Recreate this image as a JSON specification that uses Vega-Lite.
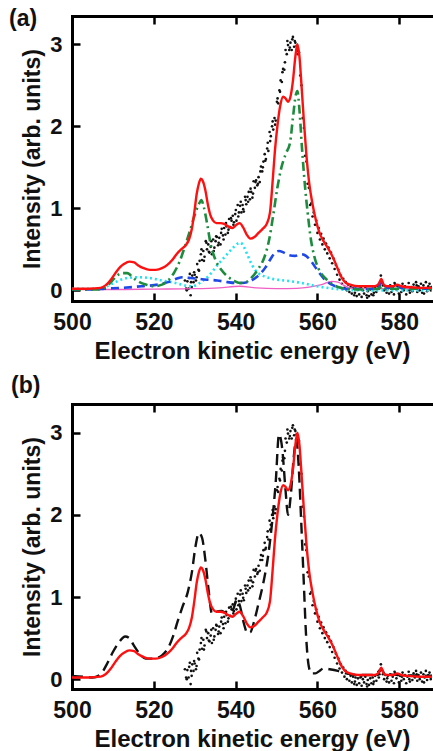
{
  "$schema": "https://vega.github.io/schema/vega-lite/v6.json",
  "padding": {"left": 9, "top": 7, "right": 5, "bottom": 5},
  "background": "white",
  "spacing": 103,
  "bounds": "flush",
  "datasets": {
    "fit": [
      {"E":500,"I":0.02},{"E":504,"I":0.02},{"E":507,"I":0.03},{"E":508.2,"I":0.06},{"E":509.5,"I":0.13},{"E":510.6,"I":0.21},{"E":511.7,"I":0.28},{"E":512.7,"I":0.32},{"E":514,"I":0.35},{"E":515.2,"I":0.34},{"E":516.3,"I":0.3},{"E":517.5,"I":0.27},{"E":519,"I":0.25},{"E":520.5,"I":0.25},{"E":522,"I":0.27},{"E":523.3,"I":0.31},{"E":524.5,"I":0.37},{"E":525.7,"I":0.45},{"E":526.9,"I":0.51},{"E":527.8,"I":0.55},{"E":528.6,"I":0.62},{"E":529.3,"I":0.75},{"E":529.9,"I":0.95},{"E":530.5,"I":1.18},{"E":531,"I":1.3},{"E":531.5,"I":1.36},{"E":532,"I":1.33},{"E":532.6,"I":1.22},{"E":533.2,"I":1.05},{"E":533.8,"I":0.92},{"E":534.5,"I":0.85},{"E":535.3,"I":0.82},{"E":536.3,"I":0.82},{"E":537.2,"I":0.81},{"E":538.2,"I":0.78},{"E":539.2,"I":0.76},{"E":540.2,"I":0.8},{"E":541,"I":0.82},{"E":541.8,"I":0.77},{"E":542.7,"I":0.68},{"E":543.6,"I":0.63},{"E":544.6,"I":0.65},{"E":545.6,"I":0.7},{"E":546.6,"I":0.75},{"E":547.6,"I":0.81},{"E":548.4,"I":0.95},{"E":549,"I":1.3},{"E":549.6,"I":1.7},{"E":550.2,"I":2.0},{"E":550.9,"I":2.25},{"E":551.6,"I":2.36},{"E":552.2,"I":2.34},{"E":552.8,"I":2.3},{"E":553.4,"I":2.36},{"E":554,"I":2.55},{"E":554.6,"I":2.85},{"E":555.1,"I":3.0},{"E":555.6,"I":2.85},{"E":556.1,"I":2.5},{"E":556.7,"I":2.05},{"E":557.3,"I":1.65},{"E":558,"I":1.3},{"E":558.8,"I":1.05},{"E":559.6,"I":0.86},{"E":560.5,"I":0.7},{"E":561.5,"I":0.6},{"E":562.5,"I":0.52},{"E":563.5,"I":0.43},{"E":564.5,"I":0.32},{"E":565.3,"I":0.22},{"E":566.1,"I":0.14},{"E":567,"I":0.09},{"E":568,"I":0.07},{"E":570,"I":0.05},{"E":572,"I":0.05},{"E":574,"I":0.05},{"E":575,"I":0.08},{"E":575.6,"I":0.14},{"E":576.2,"I":0.07},{"E":577,"I":0.05},{"E":578.5,"I":0.05},{"E":579.5,"I":0.07},{"E":580.5,"I":0.05},{"E":582,"I":0.04},{"E":585,"I":0.03},{"E":588,"I":0.03}
    ],
    "green": [
      {"E":500,"I":0.01},{"E":506,"I":0.01},{"E":508,"I":0.03},{"E":509.5,"I":0.1},{"E":511,"I":0.18},{"E":512.5,"I":0.21},{"E":513.5,"I":0.21},{"E":515,"I":0.15},{"E":516.5,"I":0.1},{"E":518,"I":0.07},{"E":520,"I":0.05},{"E":522,"I":0.07},{"E":523.5,"I":0.12},{"E":525,"I":0.22},{"E":526.3,"I":0.35},{"E":527.5,"I":0.52},{"E":528.8,"I":0.72},{"E":530,"I":0.92},{"E":531,"I":1.05},{"E":531.6,"I":1.1},{"E":532.2,"I":1.02},{"E":533,"I":0.82},{"E":533.9,"I":0.56},{"E":535,"I":0.38},{"E":536.5,"I":0.25},{"E":538,"I":0.17},{"E":539.5,"I":0.12},{"E":541,"I":0.09},{"E":542.5,"I":0.1},{"E":544,"I":0.16},{"E":545.5,"I":0.26},{"E":547,"I":0.4},{"E":548.2,"I":0.62},{"E":549.2,"I":0.92},{"E":550.2,"I":1.25},{"E":551.2,"I":1.5},{"E":552.3,"I":1.67},{"E":553.3,"I":1.8},{"E":554,"I":2.1},{"E":554.7,"I":2.38},{"E":555.1,"I":2.43},{"E":555.6,"I":2.2},{"E":556.2,"I":1.75},{"E":556.9,"I":1.3},{"E":557.6,"I":0.95},{"E":558.4,"I":0.62},{"E":559.2,"I":0.42},{"E":560.2,"I":0.27},{"E":561.3,"I":0.18},{"E":562.5,"I":0.12},{"E":563.8,"I":0.07},{"E":565,"I":0.04},{"E":567,"I":0.02},{"E":570,"I":0.01},{"E":575,"I":0.02},{"E":575.7,"I":0.05},{"E":576.3,"I":0.02},{"E":580,"I":0.02},{"E":588,"I":0.02}
    ],
    "blue": [
      {"E":500,"I":0.01},{"E":505,"I":0.01},{"E":508,"I":0.02},{"E":512,"I":0.03},{"E":517,"I":0.05},{"E":521,"I":0.07},{"E":523.5,"I":0.1},{"E":525.5,"I":0.14},{"E":527,"I":0.16},{"E":529,"I":0.15},{"E":531,"I":0.14},{"E":533,"I":0.13},{"E":535.5,"I":0.12},{"E":538,"I":0.1},{"E":540,"I":0.09},{"E":541.5,"I":0.09},{"E":543,"I":0.1},{"E":544.5,"I":0.14},{"E":546,"I":0.2},{"E":547.3,"I":0.28},{"E":548.5,"I":0.38},{"E":549.5,"I":0.45},{"E":550.6,"I":0.48},{"E":551.8,"I":0.46},{"E":553,"I":0.43},{"E":554.5,"I":0.42},{"E":556,"I":0.44},{"E":557.2,"I":0.42},{"E":558.4,"I":0.36},{"E":559.5,"I":0.28},{"E":560.8,"I":0.19},{"E":562,"I":0.12},{"E":563.5,"I":0.07},{"E":565,"I":0.04},{"E":567,"I":0.02},{"E":570,"I":0.02},{"E":574,"I":0.02},{"E":575,"I":0.05},{"E":575.6,"I":0.1},{"E":576.2,"I":0.04},{"E":578,"I":0.03},{"E":579.3,"I":0.06},{"E":580.5,"I":0.03},{"E":583,"I":0.02},{"E":588,"I":0.02}
    ],
    "cyan": [
      {"E":500,"I":0.02},{"E":506,"I":0.02},{"E":508,"I":0.04},{"E":509.8,"I":0.08},{"E":511.5,"I":0.12},{"E":513.5,"I":0.15},{"E":516,"I":0.16},{"E":519,"I":0.15},{"E":522,"I":0.12},{"E":525.3,"I":0.09},{"E":527.5,"I":0.06},{"E":529,"I":0.05},{"E":530.2,"I":0.06},{"E":531.5,"I":0.1},{"E":533.5,"I":0.18},{"E":535.1,"I":0.28},{"E":537,"I":0.39},{"E":539,"I":0.5},{"E":540.5,"I":0.57},{"E":541.2,"I":0.58},{"E":542,"I":0.53},{"E":543,"I":0.42},{"E":544.1,"I":0.3},{"E":545.5,"I":0.21},{"E":547,"I":0.17},{"E":549,"I":0.14},{"E":552,"I":0.12},{"E":555,"I":0.1},{"E":558,"I":0.07},{"E":561,"I":0.04},{"E":564,"I":0.02},{"E":566,"I":0.01},{"E":570,"I":0.0},{"E":588,"I":0.0}
    ],
    "mag": [
      {"E":500,"I":0.01},{"E":510,"I":0.01},{"E":520,"I":0.015},{"E":530,"I":0.02},{"E":536,"I":0.03},{"E":541,"I":0.05},{"E":545,"I":0.03},{"E":550,"I":0.02},{"E":555,"I":0.025},{"E":558,"I":0.04},{"E":561,"I":0.07},{"E":563.5,"I":0.11},{"E":565,"I":0.1},{"E":566.5,"I":0.06},{"E":568,"I":0.03},{"E":570,"I":0.02},{"E":588,"I":0.02}
    ],
    "dash": [
      {"E":500,"I":0.04},{"E":503,"I":0.03},{"E":505,"I":0.02},{"E":507,"I":0.06},{"E":508.5,"I":0.18},{"E":510,"I":0.33},{"E":511.5,"I":0.45},{"E":513,"I":0.52},{"E":514,"I":0.5},{"E":515,"I":0.42},{"E":516.5,"I":0.31},{"E":518,"I":0.25},{"E":520,"I":0.25},{"E":522,"I":0.29},{"E":523.5,"I":0.38},{"E":524.7,"I":0.52},{"E":525.8,"I":0.7},{"E":527,"I":0.88},{"E":528.3,"I":1.06},{"E":529.3,"I":1.3},{"E":530.2,"I":1.62},{"E":531,"I":1.78},{"E":531.8,"I":1.72},{"E":532.6,"I":1.45},{"E":533.4,"I":1.08},{"E":534.2,"I":0.8},{"E":535.2,"I":0.82},{"E":536.5,"I":0.83},{"E":538,"I":0.8},{"E":539.4,"I":0.85},{"E":540.3,"I":0.97},{"E":541,"I":0.9},{"E":542,"I":0.68},{"E":542.9,"I":0.56},{"E":543.6,"I":0.57},{"E":544.5,"I":0.7},{"E":545.5,"I":0.9},{"E":546.8,"I":1.18},{"E":548,"I":1.52},{"E":549,"I":1.95},{"E":549.8,"I":2.4},{"E":550.6,"I":2.98},{"E":551.4,"I":2.8},{"E":552.2,"I":2.3},{"E":552.8,"I":2.0},{"E":553.5,"I":2.25},{"E":554.2,"I":2.7},{"E":554.8,"I":2.92},{"E":555.4,"I":2.6},{"E":556,"I":1.95},{"E":556.6,"I":1.25},{"E":557.2,"I":0.55},{"E":557.8,"I":0.18},{"E":558.5,"I":0.07},{"E":559.5,"I":0.07},{"E":560.5,"I":0.1},{"E":561.5,"I":0.13},{"E":563,"I":0.12},{"E":565,"I":0.1},{"E":567,"I":0.07},{"E":570,"I":0.05},{"E":574,"I":0.05},{"E":575.6,"I":0.12},{"E":576.5,"I":0.06},{"E":580,"I":0.05},{"E":588,"I":0.04}
    ],
    "exp": [
      {"E":527.6,"I":0.12},{"E":527.9,"I":0.02},{"E":528.2,"I":0.11},{"E":528.5,"I":0.02},{"E":528.8,"I":0.2},{"E":529.1,"I":0.1},{"E":529.4,"I":0.18},{"E":529.7,"I":0.1},{"E":530.0,"I":0.19},{"E":530.3,"I":0.12},{"E":530.6,"I":0.32},{"E":530.9,"I":0.25},{"E":531.2,"I":0.36},{"E":531.5,"I":0.44},{"E":531.8,"I":0.37},{"E":532.1,"I":0.48},{"E":532.4,"I":0.41},{"E":532.7,"I":0.6},{"E":533.0,"I":0.5},{"E":533.3,"I":0.56},{"E":533.6,"I":0.46},{"E":533.9,"I":0.53},{"E":534.2,"I":0.44},{"E":534.5,"I":0.62},{"E":534.8,"I":0.52},{"E":535.1,"I":0.6},{"E":535.4,"I":0.65},{"E":535.7,"I":0.55},{"E":536.0,"I":0.64},{"E":536.3,"I":0.56},{"E":536.6,"I":0.75},{"E":536.9,"I":0.67},{"E":537.2,"I":0.76},{"E":537.5,"I":0.68},{"E":537.8,"I":0.78},{"E":538.1,"I":0.7},{"E":538.4,"I":0.87},{"E":538.7,"I":0.77},{"E":539.0,"I":0.85},{"E":539.3,"I":0.91},{"E":539.6,"I":0.83},{"E":539.9,"I":0.93},{"E":540.2,"I":0.85},{"E":540.5,"I":1.04},{"E":540.8,"I":0.95},{"E":541.1,"I":1.03},{"E":541.4,"I":0.95},{"E":541.7,"I":1.04},{"E":542.0,"I":0.96},{"E":542.3,"I":1.14},{"E":542.6,"I":1.05},{"E":542.9,"I":1.14},{"E":543.2,"I":1.2},{"E":543.5,"I":1.11},{"E":543.8,"I":1.2},{"E":544.1,"I":1.13},{"E":544.4,"I":1.33},{"E":544.7,"I":1.25},{"E":545.0,"I":1.34},{"E":545.3,"I":1.28},{"E":545.6,"I":1.38},{"E":545.9,"I":1.32},{"E":546.2,"I":1.51},{"E":546.5,"I":1.45},{"E":546.8,"I":1.57},{"E":547.1,"I":1.66},{"E":547.4,"I":1.6},{"E":547.7,"I":1.73},{"E":548.0,"I":1.7},{"E":548.3,"I":1.93},{"E":548.6,"I":1.88},{"E":548.9,"I":2.0},{"E":549.2,"I":1.96},{"E":549.5,"I":2.1},{"E":549.8,"I":2.07},{"E":550.1,"I":2.3},{"E":550.4,"I":2.28},{"E":550.7,"I":2.44},{"E":551.0,"I":2.56},{"E":551.3,"I":2.54},{"E":551.6,"I":2.7},{"E":551.9,"I":2.69},{"E":552.2,"I":2.93},{"E":552.5,"I":2.88},{"E":552.8,"I":2.99},{"E":553.1,"I":2.93},{"E":553.4,"I":3.02},{"E":553.7,"I":2.93},{"E":554.0,"I":3.09},{"E":554.3,"I":2.97},{"E":554.6,"I":3.02},{"E":554.9,"I":2.98},{"E":555.2,"I":2.88},{"E":555.5,"I":2.9},{"E":555.8,"I":2.62},{"E":556.1,"I":2.5},{"E":556.4,"I":2.1},{"E":556.7,"I":1.98},{"E":557.0,"I":1.64},{"E":557.3,"I":1.57},{"E":557.6,"I":1.3},{"E":557.9,"I":1.25},{"E":558.2,"I":1.04},{"E":558.5,"I":1.06},{"E":558.8,"I":0.9},{"E":559.1,"I":0.95},{"E":559.4,"I":0.8},{"E":559.7,"I":0.85},{"E":560.0,"I":0.7},{"E":560.3,"I":0.76},{"E":560.6,"I":0.62},{"E":560.9,"I":0.69},{"E":561.2,"I":0.56},{"E":561.5,"I":0.63},{"E":561.8,"I":0.5},{"E":562.1,"I":0.57},{"E":562.4,"I":0.45},{"E":562.7,"I":0.52},{"E":563.0,"I":0.39},{"E":563.3,"I":0.46},{"E":563.6,"I":0.33},{"E":563.9,"I":0.39},{"E":564.2,"I":0.26},{"E":564.5,"I":0.31},{"E":564.8,"I":0.19},{"E":565.1,"I":0.25},{"E":565.4,"I":0.13},{"E":565.7,"I":0.18},{"E":566.0,"I":0.08},{"E":566.3,"I":0.14},{"E":566.6,"I":0.03},{"E":566.9,"I":0.1},{"E":567.2,"I":0.0},{"E":567.5,"I":0.07},{"E":567.8,"I":-0.02},{"E":568.1,"I":0.04},{"E":568.4,"I":-0.04},{"E":568.7,"I":0.03},{"E":569.0,"I":-0.06},{"E":569.3,"I":0.02},{"E":569.6,"I":-0.07},{"E":569.9,"I":0.01},{"E":570.2,"I":-0.05},{"E":570.5,"I":0.02},{"E":570.8,"I":-0.08},{"E":571.1,"I":0.0},{"E":571.4,"I":-0.04},{"E":571.7,"I":0.03},{"E":572.0,"I":-0.06},{"E":572.3,"I":-0.01},{"E":572.6,"I":-0.07},{"E":572.9,"I":0.01},{"E":573.2,"I":-0.05},{"E":573.5,"I":0.02},{"E":573.8,"I":-0.03},{"E":574.1,"I":0.04},{"E":574.4,"I":-0.02},{"E":574.7,"I":0.05},{"E":575.0,"I":0.02},{"E":575.3,"I":0.1},{"E":575.5,"I":0.18},{"E":575.7,"I":0.12},{"E":576.0,"I":0.06},{"E":576.3,"I":0.0},{"E":576.6,"I":0.05},{"E":576.9,"I":-0.03},{"E":577.2,"I":0.04},{"E":577.5,"I":-0.04},{"E":577.8,"I":0.06},{"E":578.1,"I":-0.02},{"E":578.4,"I":0.03},{"E":578.7,"I":-0.05},{"E":579.0,"I":0.07},{"E":579.3,"I":0.01},{"E":579.6,"I":0.05},{"E":579.9,"I":-0.04},{"E":580.2,"I":0.04},{"E":580.5,"I":-0.02},{"E":580.8,"I":0.08},{"E":581.1,"I":0.0},{"E":581.4,"I":0.05},{"E":581.7,"I":-0.05},{"E":582.0,"I":0.03},{"E":582.3,"I":0.09},{"E":582.6,"I":-0.03},{"E":582.9,"I":0.04},{"E":583.2,"I":-0.01},{"E":583.5,"I":0.07},{"E":583.8,"I":0.02},{"E":584.1,"I":0.1},{"E":584.4,"I":-0.02},{"E":584.7,"I":0.05},{"E":585.0,"I":0.0},{"E":585.3,"I":0.08},{"E":585.6,"I":-0.03},{"E":585.9,"I":0.06},{"E":586.2,"I":0.02},{"E":586.5,"I":0.1},{"E":586.8,"I":-0.01},{"E":587.1,"I":0.05},{"E":587.4,"I":0.08},{"E":587.7,"I":0.0},
      {"E":528.05,"I":0.0},{"E":528.65,"I":0.15},{"E":529.0,"I":-0.06},{"E":529.25,"I":0.04},{"E":529.85,"I":0.22},{"E":530.45,"I":0.16},{"E":531.05,"I":0.24},{"E":531.65,"I":0.5},{"E":532.25,"I":0.36},{"E":532.85,"I":0.58},{"E":533.45,"I":0.47},{"E":534.05,"I":0.6},{"E":534.65,"I":0.48},{"E":535.25,"I":0.66},{"E":535.85,"I":0.58},{"E":536.45,"I":0.7},{"E":537.05,"I":0.62},{"E":537.65,"I":0.82},{"E":538.25,"I":0.74},{"E":538.85,"I":0.88},{"E":539.45,"I":0.8},{"E":540.05,"I":0.98},{"E":540.65,"I":0.9},{"E":541.25,"I":1.08},{"E":541.85,"I":0.99},{"E":542.45,"I":1.1},{"E":543.05,"I":1.08},{"E":543.65,"I":1.24},{"E":544.25,"I":1.18},{"E":544.85,"I":1.32},{"E":545.45,"I":1.3},{"E":546.05,"I":1.45},{"E":546.65,"I":1.5},{"E":547.25,"I":1.58},{"E":547.85,"I":1.8},{"E":548.45,"I":1.82},{"E":549.05,"I":2.06},{"E":549.65,"I":2.02},{"E":550.25,"I":2.34},{"E":550.85,"I":2.42},{"E":551.45,"I":2.66},{"E":552.05,"I":2.78},{"E":552.65,"I":3.04},{"E":553.25,"I":2.96},{"E":553.85,"I":3.06},{"E":554.45,"I":3.04},{"E":555.05,"I":2.92},{"E":569.15,"I":-0.03},{"E":570.65,"I":0.03},{"E":572.15,"I":-0.09},{"E":573.65,"I":-0.06},{"E":575.15,"I":0.06},{"E":577.05,"I":0.01},{"E":578.85,"I":0.09},{"E":580.65,"I":0.03},{"E":582.45,"I":0.0},{"E":584.25,"I":0.06},{"E":586.05,"I":-0.04},{"E":587.85,"I":0.04}
    ]
  },
  "vconcat": [
    {
      "width": 360,
      "height": 285,
      "title": {"text": "(a)", "anchor": "start", "frame": "group", "dx": -63, "offset": -34, "baseline": "alphabetic", "fontSize": 23, "fontWeight": "bold", "font": "Liberation Sans", "color": "#111"},
      "resolve": {"axis": {"x": "independent", "y": "independent"}},
      "layer": [
        {
          "data": {"name": "exp"},
          "mark": {"type": "point", "filled": true, "size": 7, "color": "#111", "opacity": 1, "clip": true},
          "encoding": {
            "x": {"field": "E", "type": "quantitative", "scale": {"domain": [500, 588], "nice": false, "zero": false}, "axis": {"orient": "bottom", "values": [500, 520, 540, 560, 580], "title": "Electron kinetic energy (eV)", "titleFontSize": 24, "labelFontSize": 23}},
            "y": {"field": "I", "type": "quantitative", "scale": {"domain": [-0.13, 3.345], "nice": false, "zero": false}, "axis": {"orient": "left", "values": [0, 1, 2, 3], "title": "Intensity (arb. units)"}}
          }
        },
        {
          "data": {"name": "mag"},
          "mark": {"type": "line", "color": "#f15fc4", "strokeWidth": 1.3, "interpolate": "monotone", "clip": true},
          "encoding": {
            "x": {"field": "E", "type": "quantitative", "axis": {"orient": "top", "values": [500, 520, 540, 560, 580], "labels": false, "title": null, "labelPadding": 0, "minExtent": 0, "maxExtent": 2}},
            "y": {"field": "I", "type": "quantitative", "axis": null}
          }
        },
        {
          "data": {"name": "cyan"},
          "mark": {"type": "line", "color": "#1fe3f2", "strokeWidth": 2.6, "strokeDash": [2, 3], "interpolate": "monotone", "clip": true},
          "encoding": {"x": {"field": "E", "type": "quantitative", "axis": null}, "y": {"field": "I", "type": "quantitative", "axis": null}}
        },
        {
          "data": {"name": "blue"},
          "mark": {"type": "line", "color": "#1f48e8", "strokeWidth": 2.6, "strokeDash": [8, 5], "interpolate": "monotone", "clip": true},
          "encoding": {"x": {"field": "E", "type": "quantitative", "axis": null}, "y": {"field": "I", "type": "quantitative", "axis": null}}
        },
        {
          "data": {"name": "green"},
          "mark": {"type": "line", "color": "#1e8c3e", "strokeWidth": 2.6, "strokeDash": [9, 4, 2, 4], "interpolate": "monotone", "clip": true},
          "encoding": {"x": {"field": "E", "type": "quantitative", "axis": null}, "y": {"field": "I", "type": "quantitative", "axis": null}}
        },
        {
          "data": {"name": "fit"},
          "mark": {"type": "line", "color": "#ff1010", "strokeWidth": 2.4, "interpolate": "monotone", "clip": true},
          "encoding": {"x": {"field": "E", "type": "quantitative", "axis": null}, "y": {"field": "I", "type": "quantitative", "axis": null}}
        }
      ]
    },
    {
      "width": 360,
      "height": 285,
      "title": {"text": "(b)", "anchor": "start", "frame": "group", "dx": -61, "offset": -13, "baseline": "alphabetic", "fontSize": 23, "fontWeight": "bold", "font": "Liberation Sans", "color": "#111"},
      "resolve": {"axis": {"x": "independent", "y": "independent"}},
      "layer": [
        {
          "data": {"name": "exp"},
          "mark": {"type": "point", "filled": true, "size": 7, "color": "#111", "opacity": 1, "clip": true},
          "encoding": {
            "x": {"field": "E", "type": "quantitative", "scale": {"domain": [500, 588], "nice": false, "zero": false}, "axis": {"orient": "bottom", "values": [500, 520, 540, 560, 580], "title": "Electron kinetic energy (eV)", "titleFontSize": 24, "labelFontSize": 23}},
            "y": {"field": "I", "type": "quantitative", "scale": {"domain": [-0.12, 3.35], "nice": false, "zero": false}, "axis": {"orient": "left", "values": [0, 1, 2, 3], "title": "Intensity (arb. units)"}}
          }
        },
        {
          "data": {"name": "dash"},
          "mark": {"type": "line", "color": "#111", "strokeWidth": 2.4, "strokeDash": [11, 6], "interpolate": "monotone", "clip": true},
          "encoding": {
            "x": {"field": "E", "type": "quantitative", "axis": {"orient": "top", "values": [500, 520, 540, 560, 580], "labels": false, "title": null, "labelPadding": 0, "minExtent": 0, "maxExtent": 2}},
            "y": {"field": "I", "type": "quantitative", "axis": null}
          }
        },
        {
          "data": {"name": "fit"},
          "mark": {"type": "line", "color": "#ff1010", "strokeWidth": 2.4, "interpolate": "monotone", "clip": true},
          "encoding": {"x": {"field": "E", "type": "quantitative", "axis": null}, "y": {"field": "I", "type": "quantitative", "axis": null}}
        }
      ]
    }
  ],
  "config": {
    "view": {"stroke": null},
    "title": {"offset": 0},
    "axis": {
      "grid": false,
      "domainColor": "#000",
      "domainWidth": 3,
      "domainCap": "square",
      "tickColor": "#000",
      "tickWidth": 2.5,
      "tickSize": -8,
      "labelPadding": 18,
      "labelFlush": false,
      "labelOverlap": false,
      "labelFont": "Liberation Sans",
      "labelFontSize": 22,
      "labelFontWeight": "bold",
      "labelColor": "#111",
      "titleFont": "Liberation Sans",
      "titleFontSize": 23,
      "titleFontWeight": "bold",
      "titleColor": "#111",
      "titlePadding": 5
    }
  }
}
